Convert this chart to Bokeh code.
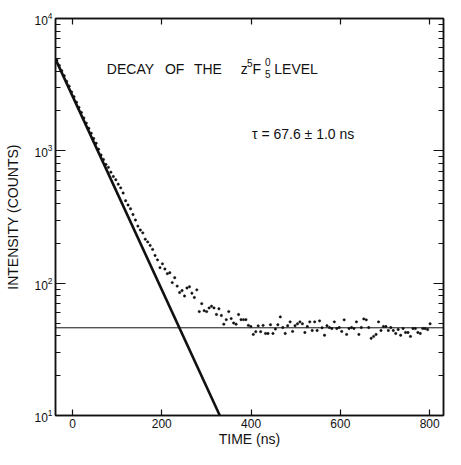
from bokeh.plotting import figure
from bokeh.models import (Range1d, LogAxis, LinearAxis, FixedTicker, Span, Label,
                          CustomJSTickFormatter, ColumnDataSource)
from bokeh.embed import file_html
from bokeh.resources import INLINE

# ---- data ----
time_ns = [-35, -29.5, -24, -18.5, -13, -7.5, -2, 3.5, 9, 14.5, 20, 25.5, 31, 36.5, 42, 47.5,
           53, 58.5, 64, 69.5, 75, 80.5, 86, 91.5, 97, 102.5, 108, 113.5, 119, 124.5, 130,
           135.5, 141, 146.5, 152, 157.5, 163, 168.5, 174, 179.5, 185, 190.5, 196, 201.5, 207,
           212.5, 218, 223.5, 229, 234.5, 240, 245.5, 251, 256.5, 262, 267.5, 273, 278.5, 284,
           289.5, 295, 300.5, 306, 311.5, 317, 322.5, 328, 333.5, 339, 344.5, 350, 355.5, 361,
           366.5, 372, 377.5, 383, 388.5, 394, 399.5, 405, 410.5, 416, 421.5, 427, 432.5, 438,
           443.5, 449, 454.5, 460, 465.5, 471, 476.5, 482, 487.5, 493, 498.5, 504, 509.5, 515,
           520.5, 526, 531.5, 537, 542.5, 548, 553.5, 559, 564.5, 570, 575.5, 581, 586.5, 592,
           597.5, 603, 608.5, 614, 619.5, 625, 630.5, 636, 641.5, 647, 652.5, 658, 663.5, 669,
           674.5, 680, 685.5, 691, 696.5, 702, 707.5, 713, 718.5, 724, 729.5, 735, 740.5, 746,
           751.5, 757, 762.5, 768, 773.5, 779, 784.5, 790, 795.5, 801]

counts = [4850, 4420, 4030, 3690, 3350, 3080, 2790, 2560, 2330, 2130,
          1950, 1770, 1620, 1480, 1360, 1240, 1140, 1030, 930, 860,
          790, 750, 690, 640, 605, 560, 525, 480, 420, 390,
          365, 330, 300, 270, 252, 240, 215, 205, 193, 180,
          162, 150, 131, 140, 128, 118, 120, 101, 110, 95,
          85, 88, 80, 92, 94, 84, 78, 89, 61, 70,
          62, 61, 65, 67, 65, 58, 64, 57, 49, 53,
          61, 54, 50, 49, 58, 53, 53, 53, 48, 47,
          41, 43, 47.6, 43, 48, 41.7, 41.7, 48.5, 41.7, 45,
          48.5, 55.6, 46.2, 41.7, 47.7, 51, 43.2, 47.7, 49.3, 51,
          49.3, 42.4, 47, 51, 43.9, 51, 43.9, 51.9, 46, 40.4,
          47.7, 46.2, 45.4, 51, 45.4, 46.2, 43.2, 52.8, 41, 45.4,
          46.2, 45.4, 51, 41, 46.2, 53.7, 52.8, 46.2, 38.3, 39.6,
          41, 51, 43.9, 47, 47, 43.9, 46.2, 43.9, 41.7, 44.6,
          40.4, 45.4, 42.4, 42.4, 39.6, 45.4, 45.4, 42.4, 41.7, 45.4,
          45.4, 44.6, 49.3]

fit_time = [-38, 330]
fit_counts = [4930, 10]
background_level = 46

x_ticks = [0, 200, 400, 600, 800]
y_ticks = [10, 100, 1000, 10000]
y_minor = [m * d for d in (10, 100, 1000) for m in range(2, 10)]

FONT = "Liberation Sans"
INK = "#111111"

p = figure(width=445, height=449, output_backend="svg", toolbar_location=None,
           x_range=Range1d(-38, 831), y_range=Range1d(10, 10000), y_axis_type="log",
           min_border_left=55, min_border_right=2, min_border_top=18, min_border_bottom=32)
p.grid.visible = False
p.outline_line_color = INK
p.outline_line_width = 1.5
p.background_fill_color = "white"
p.border_fill_color = "white"

# bottom axis
xa = p.xaxis[0]
xa.ticker = FixedTicker(ticks=x_ticks, minor_ticks=[])
xa.axis_label = "TIME (ns)"
xa.major_tick_in = 6
xa.major_tick_out = 0
xa.minor_tick_line_color = None
xa.axis_line_width = 1.5
xa.axis_line_color = INK
xa.major_tick_line_color = INK
xa.major_tick_line_width = 1.2
xa.major_label_text_font = FONT
xa.major_label_text_font_size = "12px"
xa.major_label_text_color = INK
xa.major_label_standoff = 3
xa.axis_label_text_font = FONT
xa.axis_label_text_font_size = "14px"
xa.axis_label_text_font_style = "normal"
xa.axis_label_text_color = INK
xa.axis_label_standoff = 0

# left axis
ya = p.yaxis[0]
ya.ticker = FixedTicker(ticks=y_ticks, minor_ticks=y_minor)
ya.axis_label = "INTENSITY (COUNTS)"
ya.major_tick_in = 10
ya.major_tick_out = 0
ya.minor_tick_in = 5
ya.minor_tick_out = 0
ya.axis_line_width = 1.5
ya.axis_line_color = INK
ya.major_tick_line_color = INK
ya.minor_tick_line_color = INK
ya.major_tick_line_width = 1.2
ya.minor_tick_line_width = 1.2
ya.major_label_text_font = FONT
ya.major_label_text_font_size = "12px"
ya.major_label_text_color = INK
ya.major_label_standoff = 3
ya.axis_label_text_font = FONT
ya.axis_label_text_font_size = "14px"
ya.axis_label_text_font_style = "normal"
ya.axis_label_text_color = INK
ya.axis_label_standoff = 10

blank = CustomJSTickFormatter(code="return ''")

ra = LogAxis(ticker=FixedTicker(ticks=y_ticks, minor_ticks=y_minor), formatter=blank,
             major_tick_in=10, major_tick_out=0, minor_tick_in=5, minor_tick_out=0,
             major_label_standoff=0, major_label_text_font_size="0px",
             axis_line_width=1.5, axis_line_color=INK,
             major_tick_line_color=INK, minor_tick_line_color=INK,
             major_tick_line_width=1.2, minor_tick_line_width=1.2)
p.add_layout(ra, "right")

ta = LinearAxis(ticker=FixedTicker(ticks=x_ticks, minor_ticks=[]), formatter=blank,
                major_tick_in=6, major_tick_out=0, minor_tick_line_color=None,
                major_label_standoff=0, major_label_text_font_size="0px",
                axis_line_width=1.5, axis_line_color=INK,
                major_tick_line_color=INK, major_tick_line_width=1.2)
p.add_layout(ta, "above")

# background level and fitted exponential
p.add_layout(Span(location=background_level, dimension="width",
                  line_color=INK, line_width=1))
p.line(fit_time, fit_counts, line_color=INK, line_width=2.6)

# measured points
src = ColumnDataSource(dict(t=time_ns, c=counts))
p.scatter("t", "c", source=src, size=2.4, marker="circle",
          fill_color=INK, line_color=INK, line_width=0.5)

# annotations
def lab(x, y, txt, size="14px"):
    p.add_layout(Label(x=x, y=y, text=txt, text_font=FONT, text_font_size=size,
                       text_color=INK, text_baseline="alphabetic", text_align="left"))

lab(77, 4170, "DECAY")
lab(207, 4170, "OF")
lab(272, 4170, "THE")
lab(377, 4170, "z")
lab(391, 4630, "5", "10px")
lab(403, 4170, "F")
lab(431, 4700, "0", "10px")
lab(431, 3800, "5", "10px")
lab(452, 4170, "LEVEL")
lab(402, 1352, "\u03c4 = 67.6 \u00b1 1.0 ns")

open("out.html", "w").write(file_html(p, INLINE))
